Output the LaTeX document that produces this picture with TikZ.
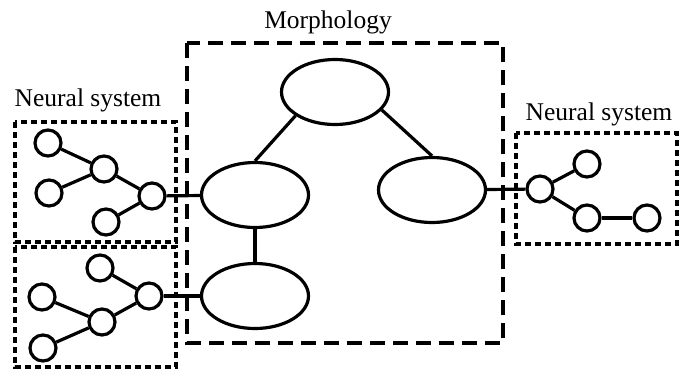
\documentclass[tikz,border=0pt]{standalone}
\usepackage{fontspec}
\setmainfont{Liberation Serif}
\usetikzlibrary{shapes.geometric}
\begin{document}
\begin{tikzpicture}[x=1pt,y=-1pt,
  lw/.style={line width=3.2pt},
  part/.style={draw,lw,ellipse,minimum width=107pt,minimum height=65pt,inner sep=0pt},
  neuron/.style={draw,lw,circle,minimum size=26pt,inner sep=0pt},
  link/.style={lw},
  bigbox/.style={draw,lw,dash pattern=on 15pt off 8pt},
  nbox/.style={draw,lw,dash pattern=on 6pt off 4pt},
  lbl/.style={anchor=base,font=\fontsize{25.5}{30}\selectfont,inner sep=0pt}]
\useasboundingbox (0,0) rectangle (690,372);
% boxes
\draw[bigbox] (187,43) rectangle (503,343);
\draw[nbox] (15,122) rectangle (176,242);
\draw[nbox] (15,247) rectangle (176,367);
\draw[nbox] (516,133) rectangle (677,244);
% labels
\node[lbl] (lm) at (328,28) {Morphology};
\node[lbl] (ln1) at (88,106) {Neural system};
\node[lbl] (ln2) at (599,120) {Neural system};
% morphology parts
\node[part] (top) at (335,92) {};
\node[part] (ml) at (255,195) {};
\node[part] (mr) at (432,190) {};
\node[part] (mb) at (255,296) {};
\draw[link] (top.211) -- (ml.north);
\draw[link] (top.339) -- (mr.north);
\draw[link] (ml) -- (mb);
% left top neural net
\node[neuron] (a1) at (48,143) {};
\node[neuron] (a2) at (104,169) {};
\node[neuron] (a3) at (152,196) {};
\node[neuron] (a4) at (49,193) {};
\node[neuron] (a5) at (106,222) {};
\draw[link] (a1) -- (a2);
\draw[link] (a4) -- (a2);
\draw[link] (a2) -- (a3);
\draw[link] (a5) -- (a3);
\draw[link] (a3) -- (ml);
% left bottom neural net
\node[neuron] (b1) at (100,268) {};
\node[neuron] (b2) at (42,297) {};
\node[neuron] (b3) at (102,322) {};
\node[neuron] (b4) at (149,296) {};
\node[neuron] (b5) at (43,348) {};
\draw[link] (b1) -- (b4);
\draw[link] (b2) -- (b3);
\draw[link] (b5) -- (b3);
\draw[link] (b3) -- (b4);
\draw[link] (b4) -- (mb);
% right neural net
\node[neuron] (r1) at (540,189) {};
\node[neuron] (r2) at (587,164) {};
\node[neuron] (r3) at (587,218) {};
\node[neuron] (r4) at (647,218) {};
\draw[link] (mr) -- (r1);
\draw[link] (r1) -- (r2);
\draw[link] (r1) -- (r3);
\draw[link] (r3) -- (r4);
\end{tikzpicture}
\end{document}
